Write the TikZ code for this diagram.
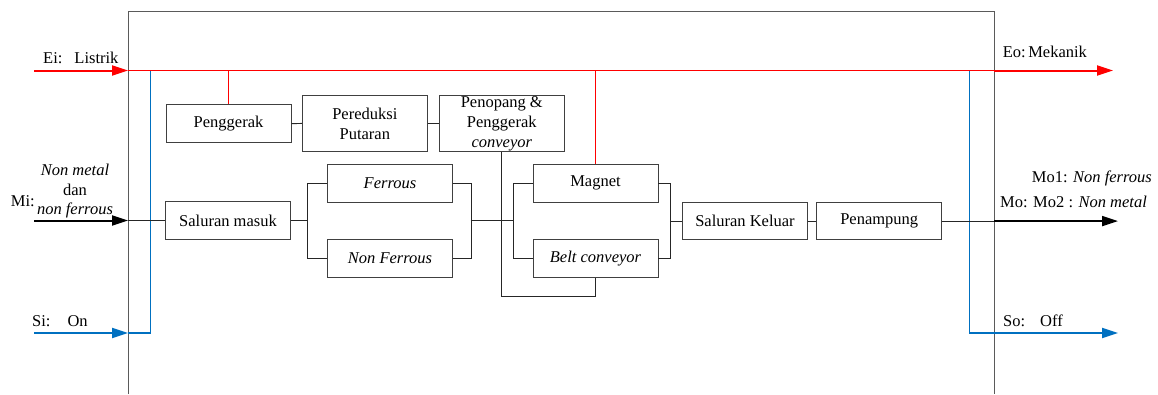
\documentclass[tikz,border=0pt]{standalone}
\usepackage{fontspec}
\setmainfont{Liberation Serif}
\usetikzlibrary{arrows.meta}
\definecolor{myblue}{RGB}{0,112,192}
\definecolor{boxgray}{RGB}{64,64,64}
\definecolor{framegray}{RGB}{90,90,90}
\begin{document}
\begin{tikzpicture}[x=1pt,y=-1pt,
  txt/.style={font=\fontsize{16.5}{20}\selectfont, inner sep=0pt},
  blk/.style={draw=boxgray, line width=0.9pt, txt, align=center, minimum width=125pt, minimum height=37.6pt, fill=white},
  conn/.style={draw=black!85, line width=0.9pt},
  redl/.style={draw=red, line width=1.2pt},
  bluel/.style={draw=myblue, line width=1.2pt},
  tip/.style={-{Triangle[length=16pt,width=10pt]}, line width=2pt},
]
\useasboundingbox (0,0) rectangle (1158,394);
% frame
\draw[framegray, line width=1pt] (128,394) -- (128,11) -- (994,11) -- (994,394);

% blocks
\node[blk] (Pg) at (228.5,123.7) {Penggerak};
\node[blk, minimum height=56pt] (Pr) at (364.8,123.4) {Pereduksi\\Putaran};
\node[blk, minimum height=56pt] (Po) at (501.8,123.4) {Penopang \&\\Penggerak\\\textit{conveyor}};
\node[blk] (SM) at (228,220.5) {Saluran masuk};
\node[blk] (Fe) at (390,183.2) {\textit{Ferrous}};
\node[blk] (NF) at (390,258.5) {\textit{Non Ferrous}};
\node[blk] (Mg) at (595.5,183.2) {Magnet};
\node[blk] (BC) at (595.5,258.5) {\textit{Belt conveyor}};
\node[blk] (SK) at (745,221.1) {Saluran Keluar};
\node[blk] (PN) at (879.2,221.1) {Penampung};

% coordinates
\coordinate (eiS) at (34,70.5);
\coordinate (eiE) at (128,70.5);
\coordinate (eoS) at (994,70.5);
\coordinate (eoE) at (1113,70.5);
\coordinate (siS) at (34,333);
\coordinate (siE) at (128,333);
\coordinate (soS) at (994,333);
\coordinate (soE) at (1118,333);
\coordinate (miS) at (34,220.5);
\coordinate (miE) at (128,220.5);
\coordinate (moS) at (994,221.1);
\coordinate (moE) at (1118,221.1);
\coordinate (j1) at (470.7,220.8);
\coordinate (j2) at (514.3,220.8);
\coordinate (j3) at (670,221.1);

% red energy line
\draw[red, tip] (eiS) -- (eiE);
\draw[redl] (eiE) -- (eoS);
\draw[red, tip] (eoS) -- (eoE);
\draw[redl] (Pg.north) -- (Pg.north |- eiE);
\draw[redl] (Mg.north) -- (Mg.north |- eiE);

% blue signal lines
\draw[myblue, tip] (siS) -- (siE);
\draw[bluel] (siE) -- (150.5,333) -- (150.5,70.5);
\draw[bluel] (969.5,70.5) -- (969.5,333) -- (soS);
\draw[myblue, tip] (soS) -- (soE);

% material line
\draw[black, tip] (miS) -- (miE);
\draw[conn] (miE) -- (SM.west);
\draw[conn] (SM.east) -- (308.3,220.5);
\draw[conn] (Fe.west) -- ++(-19.4,0) |- (NF.west);
\draw[conn] (Fe.east) -- ++(18.4,0) |- (NF.east);
\draw[conn] (j1) -- (j2);
\draw[conn] (Mg.west) -- ++(-18.7,0) |- (BC.west);
\draw[conn] (Mg.east) -- ++(12,0) |- (BC.east);
\draw[conn] (j3) -- (SK.west);
\draw[conn] (SK.east) -- (PN.west);
\draw[conn] (PN.east) -- (moS);
\draw[black, tip] (moS) -- (moE);
\draw[conn] (Pg.east) -- (Pr.west);
\draw[conn] (Pr.east) -- (Po.west);
\draw[conn] (Po.south) -- ++(0,144.6) -| (BC.south);

% labels
\node[txt, anchor=base west] (lEi) at (43,63.5) {Ei:\hspace{12pt}Listrik};
\node[txt, anchor=base west] (lEo) at (1002.7,57.5) {Eo:\hspace{2.5pt}Mekanik};
\node[txt, anchor=base west] (lSi) at (32,326.7) {Si:\hspace{17pt}On};
\node[txt, anchor=base west] (lSo) at (1003,326.7) {So:\hspace{15pt}Off};
\node[txt, anchor=base west] (lMi) at (10.7,206) {Mi:};
\node[txt, anchor=base] (lNm) at (75,175) {\textit{Non metal}};
\node[txt, anchor=base] (lDan) at (75,195) {dan};
\node[txt, anchor=base] (lNf) at (75,214.3) {\textit{non ferrous}};
\node[txt, anchor=base west] (lMo1) at (1031.7,182.3) {Mo1: \textit{Non ferrous}};
\node[txt, anchor=base west] (lMo) at (1000,207.3) {Mo: Mo2 : \textit{Non metal}};
\end{tikzpicture}
\end{document}
